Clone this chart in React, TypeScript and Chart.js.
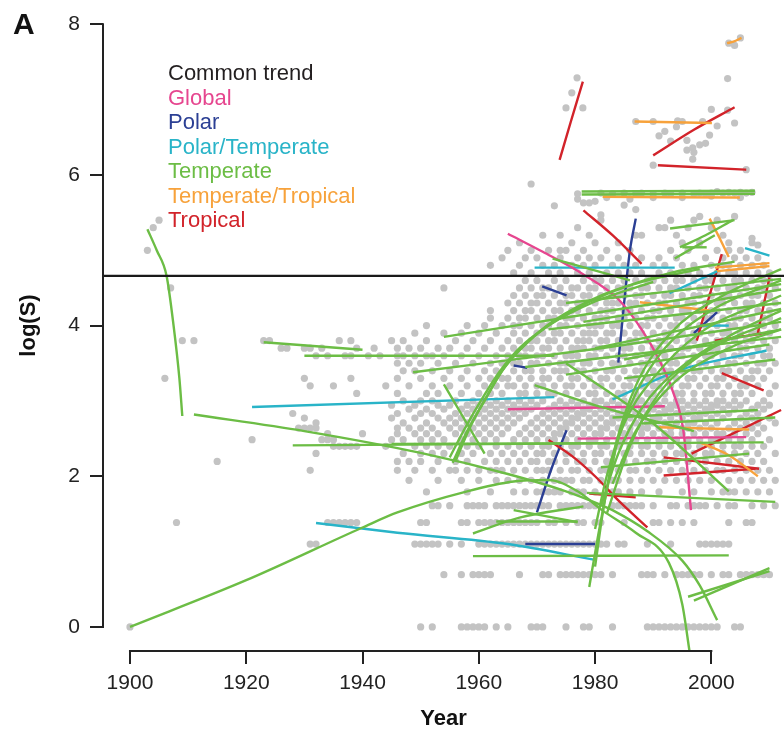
import { useEffect, useRef } from "react";
import { Chart, registerables } from "chart.js";

Chart.register(...registerables);

const xTicks = [1900, 1920, 1940, 1960, 1980, 2000];
const yTicks = [0, 2, 4, 6, 8];
const xRange = [1895.36, 2012.5];
const yRange = [-0.32, 8.323];
const commonTrend = 4.66;

const legendLabels = ["Common trend", "Global", "Polar", "Polar/Temperate", "Temperate", "Temperate/Tropical", "Tropical"];
const legendColors = ["#231f20", "#e6468f", "#2b3f94", "#29b4c8", "#6cbd45", "#f7a23b", "#d2232a"];

// gray observations, grouped by log(S) level
const dotLevels = [0, 0.693, 1.099, 1.386, 1.609, 1.792, 1.946, 2.079, 2.197, 2.303, 2.398, 2.485, 2.565, 2.639, 2.708, 2.773, 2.833, 2.89, 2.944, 3.0,
  3.1, 3.2, 3.3, 3.4, 3.5, 3.6, 3.7, 3.8, 3.9, 4.0, 4.1, 4.2, 4.3, 4.4, 4.5, 4.6, 4.7, 4.8, 4.9, 5.0, 5.1, 5.2, 5.3, 5.4];
const dotYears: number[][] = [
  [1900, 1950, 1952, 1957, 1958, 1959, 1960, 1961, 1963, 1965, 1969, 1970, 1971, 1975, 1978, 1979, 1983, 1989, 1990, 1991, 1992, 1993, 1994, 1995, 1996, 1997, 1998, 1999, 2000, 2001, 2004, 2005],
  [1954, 1957, 1959, 1960, 1961, 1962, 1967, 1971, 1972, 1974, 1975, 1976, 1977, 1978, 1979, 1980, 1981, 1983, 1988, 1989, 1990, 1992, 1994, 1995, 1996, 1997, 1998, 2000, 2002, 2003, 2005, 2006, 2007, 2008, 2009, 2010],
  [1931, 1932, 1949, 1950, 1951, 1952, 1953, 1955, 1957, 1960, 1961, 1962, 1963, 1964, 1965, 1966, 1967, 1968, 1969, 1970, 1971, 1972, 1973, 1974, 1975, 1976, 1977, 1978, 1979, 1980, 1981, 1982, 1984, 1985, 1989, 1993, 1998, 1999, 2000, 2001, 2002, 2003],
  [1908, 1934, 1935, 1936, 1937, 1938, 1939, 1950, 1951, 1957, 1958, 1960, 1961, 1962, 1963, 1964, 1965, 1966, 1967, 1968, 1969, 1970, 1972, 1973, 1975, 1977, 1978, 1980, 1981, 1985, 1990, 1991, 1993, 1995, 1997, 2003, 2006, 2007],
  [1952, 1953, 1955, 1958, 1959, 1960, 1961, 1963, 1964, 1965, 1966, 1967, 1968, 1969, 1970, 1971, 1972, 1974, 1975, 1976, 1977, 1978, 1979, 1980, 1983, 1984, 1985, 1986, 1987, 1988, 1990, 1993, 1994, 1996, 1997, 1998, 1999, 2001, 2003, 2004, 2007, 2009, 2011],
  [1951, 1958, 1962, 1966, 1968, 1970, 1971, 1972, 1973, 1974, 1976, 1977, 1978, 1980, 1983, 1984, 1986, 1988, 1991, 1995, 1997, 2000, 2002, 2003, 2004, 2006, 2008, 2010],
  [1948, 1953, 1957, 1960, 1963, 1965, 1967, 1969, 1971, 1973, 1974, 1975, 1976, 1978, 1979, 1981, 1983, 1984, 1986, 1988, 1990, 1992, 1994, 1996, 1998, 2000, 2003, 2005, 2007, 2009, 2011],
  [1931, 1946, 1949, 1952, 1955, 1956, 1958, 1960, 1962, 1963, 1964, 1966, 1968, 1970, 1971, 1972, 1974, 1976, 1977, 1979, 1981, 1982, 1984, 1986, 1987, 1989, 1991, 1993, 1995, 1997, 1999, 2001, 2002, 2004, 2006, 2008, 2010],
  [1915, 1946, 1948, 1950, 1953, 1956, 1958, 1961, 1963, 1965, 1967, 1969, 1970, 1972, 1973, 1975, 1977, 1978, 1980, 1982, 1983, 1985, 1987, 1989, 1990, 1992, 1994, 1996, 1999, 2001, 2003, 2005, 2007, 2009],
  [1932, 1947, 1950, 1952, 1954, 1957, 1959, 1962, 1964, 1966, 1968, 1970, 1971, 1973, 1975, 1976, 1978, 1980, 1981, 1983, 1985, 1986, 1988, 1990, 1992, 1994, 1995, 1997, 1999, 2000, 2002, 2004, 2006, 2008, 2011],
  [1935, 1936, 1937, 1938, 1939, 1944, 1949, 1951, 1953, 1955, 1958, 1960, 1963, 1965, 1967, 1969, 1971, 1972, 1974, 1976, 1977, 1979, 1981, 1982, 1984, 1986, 1988, 1989, 1991, 1993, 1995, 1996, 1998, 2000, 2002, 2004, 2005, 2007, 2009],
  [1921, 1933, 1934, 1935, 1945, 1947, 1950, 1952, 1954, 1957, 1959, 1961, 1963, 1966, 1968, 1970, 1972, 1973, 1975, 1977, 1979, 1980, 1982, 1984, 1985, 1987, 1989, 1991, 1992, 1994, 1996, 1998, 2000, 2001, 2003, 2005, 2007, 2010],
  [1934, 1940, 1946, 1949, 1951, 1953, 1956, 1958, 1960, 1962, 1964, 1967, 1969, 1971, 1973, 1974, 1976, 1978, 1980, 1981, 1983, 1985, 1986, 1988, 1990, 1992, 1993, 1995, 1997, 1999, 2001, 2002, 2004, 2006, 2008],
  [1929, 1930, 1931, 1932, 1946, 1948, 1950, 1952, 1955, 1957, 1959, 1961, 1963, 1965, 1968, 1970, 1972, 1974, 1975, 1977, 1979, 1981, 1982, 1984, 1986, 1988, 1989, 1991, 1993, 1995, 1996, 1998, 2000, 2003, 2005, 2007, 2009],
  [1932, 1947, 1951, 1954, 1956, 1958, 1960, 1962, 1964, 1966, 1969, 1971, 1973, 1975, 1976, 1978, 1980, 1982, 1983, 1985, 1987, 1989, 1990, 1992, 1994, 1996, 1997, 1999, 2001, 2004, 2006, 2008, 2011],
  [1930, 1945, 1949, 1953, 1955, 1957, 1959, 1961, 1963, 1965, 1967, 1970, 1972, 1974, 1976, 1977, 1979, 1981, 1983, 1984, 1986, 1988, 1990, 1991, 1993, 1995, 1997, 1998, 2000, 2002, 2005, 2007, 2010],
  [1928, 1946, 1950, 1952, 1956, 1958, 1960, 1962, 1964, 1966, 1968, 1971, 1973, 1975, 1977, 1978, 1980, 1982, 1984, 1985, 1987, 1989, 1991, 1992, 1994, 1996, 1998, 1999, 2001, 2003, 2006, 2008],
  [1948, 1951, 1954, 1957, 1959, 1961, 1963, 1965, 1967, 1969, 1972, 1974, 1976, 1978, 1979, 1981, 1983, 1985, 1986, 1988, 1990, 1992, 1993, 1995, 1997, 1999, 2000, 2002, 2004, 2007, 2009],
  [1945, 1949, 1953, 1955, 1958, 1960, 1962, 1964, 1966, 1968, 1970, 1973, 1975, 1977, 1979, 1980, 1982, 1984, 1986, 1987, 1989, 1991, 1993, 1994, 1996, 1998, 2000, 2001, 2003, 2005, 2008, 2010],
  [1947, 1950, 1952, 1956, 1959, 1961, 1963, 1965, 1967, 1969, 1971, 1974, 1976, 1978, 1980, 1981, 1983, 1985, 1987, 1988, 1990, 1992, 1994, 1995, 1997, 1999, 2001, 2002, 2004, 2006, 2009],
  [1939, 1946, 1951, 1953, 1957, 1960, 1962, 1964, 1967, 1968, 1970, 1972, 1973, 1975, 1977, 1979, 1980, 1982, 1984, 1985, 1987, 1989, 1990, 1992, 1994, 1995, 1997, 1999, 2000, 2002, 2004, 2005, 2007, 2010],
  [1931, 1935, 1944, 1948, 1952, 1955, 1958, 1961, 1963, 1965, 1966, 1968, 1970, 1971, 1973, 1975, 1976, 1978, 1980, 1981, 1983, 1985, 1986, 1988, 1990, 1991, 1993, 1995, 1996, 1998, 2000, 2001, 2003, 2005, 2006, 2008, 2011],
  [1906, 1930, 1938, 1946, 1950, 1954, 1957, 1960, 1962, 1964, 1965, 1967, 1969, 1971, 1972, 1974, 1976, 1977, 1979, 1981, 1982, 1984, 1986, 1987, 1989, 1991, 1992, 1994, 1996, 1997, 1999, 2001, 2002, 2004, 2006, 2007, 2009],
  [1947, 1949, 1952, 1955, 1958, 1961, 1963, 1966, 1968, 1969, 1971, 1973, 1974, 1975, 1977, 1978, 1980, 1982, 1983, 1985, 1987, 1988, 1990, 1992, 1993, 1995, 1997, 1998, 2000, 2002, 2003, 2005, 2007, 2008, 2010],
  [1946, 1948, 1950, 1953, 1956, 1959, 1962, 1964, 1966, 1967, 1969, 1970, 1972, 1974, 1975, 1976, 1978, 1979, 1981, 1983, 1984, 1986, 1988, 1989, 1991, 1993, 1994, 1996, 1998, 1999, 2001, 2003, 2004, 2006, 2008, 2009, 2011],
  [1932, 1934, 1937, 1938, 1941, 1943, 1946, 1947, 1949, 1951, 1952, 1954, 1957, 1960, 1963, 1965, 1967, 1968, 1970, 1971, 1973, 1975, 1976, 1977, 1979, 1980, 1982, 1984, 1985, 1987, 1989, 1990, 1992, 1994, 1995, 1997, 1999, 2000, 2002, 2004, 2005, 2007, 2009, 2010],
  [1926, 1927, 1930, 1931, 1933, 1939, 1942, 1946, 1948, 1950, 1953, 1955, 1958, 1961, 1964, 1966, 1968, 1969, 1971, 1972, 1974, 1976, 1977, 1978, 1980, 1981, 1983, 1985, 1986, 1988, 1990, 1991, 1993, 1995, 1996, 1998, 2000, 2001, 2003, 2005, 2006, 2008, 2010],
  [1909, 1911, 1923, 1924, 1936, 1938, 1945, 1947, 1951, 1956, 1959, 1962, 1965, 1967, 1969, 1970, 1972, 1973, 1975, 1977, 1978, 1979, 1981, 1982, 1984, 1986, 1987, 1989, 1991, 1992, 1994, 1996, 1997, 1999, 2001, 2002, 2004, 2006, 2007, 2009, 2011],
  [1949, 1954, 1957, 1960, 1963, 1966, 1968, 1970, 1971, 1973, 1974, 1976, 1978, 1979, 1980, 1982, 1983, 1985, 1987, 1988, 1990, 1992, 1993, 1995, 1997, 1998, 2000, 2002, 2003, 2005, 2007, 2008, 2010],
  [1951, 1958, 1961, 1964, 1966, 1967, 1969, 1971, 1972, 1974, 1975, 1977, 1979, 1980, 1981, 1983, 1984, 1986, 1988, 1989, 1991, 1993, 1994, 1996, 1998, 1999, 2001, 2003, 2004, 2006, 2008, 2009, 2011],
  [1962, 1965, 1967, 1968, 1970, 1972, 1973, 1975, 1976, 1978, 1980, 1981, 1982, 1984, 1985, 1987, 1989, 1990, 1992, 1994, 1995, 1997, 1999, 2000, 2002, 2004, 2005, 2007, 2009, 2010],
  [1962, 1966, 1968, 1969, 1971, 1973, 1974, 1976, 1977, 1979, 1981, 1982, 1983, 1985, 1986, 1988, 1990, 1991, 1993, 1995, 1996, 1998, 2000, 2001, 2003, 2005, 2006, 2008, 2010],
  [1965, 1967, 1969, 1970, 1972, 1974, 1975, 1977, 1978, 1980, 1982, 1983, 1984, 1986, 1987, 1989, 1991, 1992, 1994, 1996, 1997, 1999, 2001, 2002, 2004, 2006, 2007, 2009, 2011],
  [1966, 1968, 1970, 1971, 1973, 1975, 1976, 1978, 1979, 1981, 1983, 1984, 1985, 1987, 1988, 1990, 1992, 1993, 1995, 1997, 1998, 2000, 2002, 2003, 2005, 2007, 2008, 2010],
  [1907, 1954, 1967, 1969, 1971, 1972, 1974, 1976, 1977, 1979, 1980, 1982, 1984, 1985, 1986, 1988, 1989, 1991, 1993, 1994, 1996, 1998, 1999, 2001, 2003, 2004, 2006, 2008, 2009, 2011],
  [1968, 1970, 1973, 1975, 1978, 1980, 1981, 1983, 1985, 1987, 1989, 1990, 1992, 1994, 1995, 1997, 1999, 2000, 2002, 2004, 2005, 2007, 2009, 2010],
  [1966, 1969, 1972, 1974, 1977, 1979, 1982, 1984, 1986, 1988, 1991, 1993, 1996, 1998, 2001, 2003, 2004, 2006, 2008, 2010],
  [1962, 1967, 1971, 1973, 1976, 1978, 1980, 1983, 1985, 1987, 1990, 1992, 1995, 1997, 2000, 2002, 2003, 2005, 2007, 2009],
  [1964, 1968, 1970, 1974, 1977, 1979, 1981, 1984, 1988, 1991, 1994, 1999, 2002, 2004, 2006, 2008],
  [1903, 1965, 1969, 1972, 1974, 1975, 1978, 1982, 1986, 1993, 1996, 2001, 2003, 2005],
  [1967, 1976, 1980, 1984, 1995, 1998, 2003, 2007],
  [1971, 1974, 1979, 1987, 1988, 1994, 2002],
  [1904, 1977, 1991, 1992, 1996, 2000],
  [1905, 1981, 1993, 1997, 2001],
];
// sparse observations at the top of the cloud
const upperDots: [number, number][] = [
  [1969, 5.88], [1973, 5.59], [1981, 5.47], [1987, 5.54], [1985, 5.6], [1977, 5.68], [1978, 5.63], [1979, 5.63], [1980, 5.65],
  [1977, 5.75], [1981, 5.76], [1983, 5.75], [1985, 5.76], [1987, 5.75], [1988, 5.76], [1990, 5.75], [1992, 5.76], [1993, 5.75], [1995, 5.76],
  [1997, 5.75], [1998, 5.76], [1999, 5.75], [2000, 5.76], [2001, 5.78], [2002, 5.76], [2003, 5.77], [2004, 5.76], [2005, 5.77], [2006, 5.76], [2007, 5.77],
  [1982, 5.7], [1986, 5.68], [1990, 5.7], [1995, 5.7], [2000, 5.72], [2005, 5.7],
  [1987, 6.71], [1990, 6.71], [1995, 6.71], [1998.5, 6.71],
  [1990, 6.13], [1991, 6.52], [1992, 6.58], [1993, 6.45], [1994, 6.64], [1994.2, 6.72], [1995.8, 6.46], [1995.8, 6.33], [1996.8, 6.36], [1996.8, 6.21],
  [1997, 6.3], [1998, 6.4], [1999, 6.42], [1999.7, 6.53], [2000, 6.87], [2001, 6.65], [2002.8, 6.86], [2004, 6.69], [2006, 6.07],
  [1975, 6.89], [1976, 7.09], [1976.9, 7.29], [1977.9, 6.89],
  [2002.8, 7.28], [2003, 7.75], [2004, 7.72], [2005, 7.82],
  [2007, 5.16], [2008, 5.07], [1998, 5.45], [2004, 5.45],
];

// fitted trends, one list of [year, log(S)] per population
const globalLines: [number, number][][] = [
  [[1965, 5.22], [1971, 4.98], [1978, 4.68], [1984, 4.35], [1988, 3.95], [1991, 3.55], [1993.5, 3.1], [1995.2, 2.6], [1996.5, 1.55]],
  [[1965, 2.89], [1992, 2.93]],
  [[1977, 2.5], [2006, 2.52]],
];
const polarLines: [number, number][][] = [
  [[1970.9, 4.52], [1975.1, 4.4]],
  [[1984, 3.51], [1985, 4.3], [1986, 5.0], [1987, 5.42]],
  [[1970, 1.52], [1972.5, 2.1], [1975.1, 2.61]],
  [[1968, 1.1], [1980, 1.1]],
  [[1966, 3.47], [1968.3, 3.44]],
  [[1997, 3.9], [2001, 4.18]],
];
const polarTemperateLines: [number, number][][] = [
  [[1921, 2.92], [1973, 3.05]],
  [[1932, 1.38], [1946, 1.25], [1965, 1.1], [1980, 0.89]],
  [[1969.6, 4.77], [1993.7, 4.77]],
  [[1983, 3.02], [1995, 3.42], [2009.5, 3.67]],
  [[1992.8, 4.43], [2001, 4.72]],
  [[1998, 4.0], [2003, 4.0]],
  [[2005.8, 5.03], [2010, 4.93]],
];
const temperateLines: [number, number][][] = [
  [[1903, 5.28], [1904.6, 5.0], [1906.3, 4.66], [1907.5, 4.0], [1908.5, 3.3], [1909, 2.8]],
  [[1911, 2.82], [1930, 2.6], [1950, 2.31], [1965, 2.03], [1975, 1.8], [1981, 1.62], [1983, 1.55], [1989, 1.27], [1995, 0.88], [1998, 0.55], [2001, 0.09]],
  [[1900, 0], [1920, 0.62], [1940, 1.32], [1946, 1.52], [1958, 1.8], [1966, 1.93], [1972, 1.95], [1977, 1.8], [1981.2, 1.55], [1987, 1.25], [1992.7, 0.85], [1995, 0.3], [1996.3, -0.35]],
  [[1923, 3.78], [1940, 3.68]],
  [[1930, 3.6], [1973, 3.6]],
  [[1928, 2.41], [2009, 2.45]],
  [[1945, 2.43], [1982, 2.44]],
  [[1959, 0.94], [2003, 0.95]],
  [[1959, 1.24], [1967, 1.45], [1978, 1.6]],
  [[1966, 1.55], [1977, 1.39]],
  [[1963, 1.4], [1977, 1.4]],
  [[1997, 0.35], [2010, 0.78]],
  [[1996, 0.4], [2010, 0.74]],
  [[1954, 3.22], [1961, 2.3]],
  [[1955.5, 2.18], [1958, 2.6], [1961, 3.0], [1964, 3.4], [1968, 3.75], [1973, 4.07], [1981, 4.4], [1990, 4.62], [1998, 4.75]],
  [[1956, 2.2], [1958.5, 2.65], [1961.5, 3.08], [1964.5, 3.45], [1969, 3.82], [1975, 4.15], [1983, 4.45], [1993, 4.7], [2004, 4.85]],
  [[1955, 2.25], [1957.5, 2.62], [1960.5, 3.02], [1963.5, 3.38], [1967, 3.7], [1972, 4.0], [1980, 4.32], [1990, 4.58]],
  [[1954, 3.85], [1981, 4.18], [2012, 4.55]],
  [[1948.7, 3.38], [1981, 3.7], [2012, 4.05]],
  [[1969.6, 3.21], [1981, 2.92], [1997, 2.6]],
  [[1975, 4.3], [2012, 4.62]],
  [[1978, 4.05], [2012, 4.48]],
  [[1972, 3.95], [2012, 4.3]],
  [[1980, 3.7], [2012, 4.22]],
  [[1985, 3.55], [2012, 3.95]],
  [[1968, 3.45], [2012, 3.85]],
  [[1975, 3.35], [2010, 3.75]],
  [[1979, 0.53], [1980.5, 1.2], [1982, 1.8], [1984, 2.5], [1987, 3.1], [1992, 3.7], [2000, 4.2], [2012, 4.6]],
  [[1980, 1.3], [1982, 2.0], [1985, 2.7], [1990, 3.3], [1998, 3.9], [2012, 4.4]],
  [[1981, 1.6], [1984, 2.3], [1988, 2.9], [1994, 3.4], [2004, 3.9], [2012, 4.2]],
  [[1980, 0.8], [1981.5, 1.6], [1983.5, 2.4], [1987, 3.2], [1993, 3.9], [2002, 4.4], [2012, 4.75]],
  [[1982, 1.5], [1986, 2.4], [1991, 3.1], [1998, 3.6], [2012, 4.1]],
  [[1983, 1.9], [1987, 2.6], [1993, 3.2], [2003, 3.7], [2012, 3.95]],
  [[1977.7, 5.74], [2007.5, 5.75]],
  [[1977.7, 5.78], [2007.5, 5.79]],
  [[1992.9, 5.29], [2004, 5.4]],
  [[1994.6, 5.04], [1999, 5.2], [2003.7, 5.4]],
  [[1995, 5.04], [1999.2, 5.04]],
  [[1993.7, 4.89], [2000.6, 5.2]],
  [[1972.7, 4.89], [1981, 4.71], [1986, 4.6]],
  [[1983, 2.78], [2008, 2.88]],
  [[1988, 2.7], [2011, 2.78]],
  [[1981, 2.12], [2006.5, 2.3]],
  [[1978.6, 1.78], [2011, 1.66]],
  [[1975, 3.5], [1990, 2.7], [2003, 1.8]],
  [[1985, 3.3], [2011, 3.55]],
];
const temperateTropicalLines: [number, number][][] = [
  [[1986.8, 6.71], [2000.1, 6.69]],
  [[1981.3, 5.71], [2004.9, 5.7]],
  [[2002.7, 7.75], [2003.8, 7.77], [2005.2, 7.82]],
  [[1999.7, 5.42], [2001.5, 5.15], [2003, 4.91]],
  [[2000.6, 4.77], [2010, 4.83]],
  [[2000.6, 4.72], [2010, 4.79]],
  [[1987.7, 4.31], [1999.7, 4.2]],
  [[1991, 2.65], [2006.5, 2.62]],
  [[1998, 2.45], [2003, 2.28], [2008, 2.0]],
];
const tropicalLines: [number, number][][] = [
  [[1973.9, 6.2], [1975.8, 6.7], [1977.9, 7.24]],
  [[1990, 6.26], [1997, 6.6], [2004, 6.9]],
  [[1990.8, 6.13], [2006, 6.07]],
  [[1978, 5.53], [1983, 5.2], [1988, 4.82]],
  [[1997.5, 3.8], [1999.5, 4.35], [2001.8, 4.95]],
  [[2008, 3.9], [2010, 4.64]],
  [[2000.6, 3.8], [2010, 3.91]],
  [[2001.8, 3.37], [2009, 3.14]],
  [[1996.6, 2.3], [2012, 2.88]],
  [[1991.8, 2.25], [2008.2, 2.1]],
  [[1991.8, 2.01], [2007.6, 2.1]],
  [[1972, 2.48], [1976, 2.27], [1980, 2.0], [1984, 1.68], [1989, 1.32]],
  [[1979, 1.77], [1987, 1.72]],
];

const FONT = '"Liberation Sans", Arial, Helvetica, sans-serif';

const decorPlugin = {
  id: "decor",
  afterDraw(chart: any) {
    const { ctx, chartArea, scales } = chart;
    const x = scales.x;
    const y = scales.y;
    ctx.save();
    ctx.strokeStyle = "#222";
    ctx.lineWidth = 2;
    ctx.beginPath();
    ctx.moveTo(chartArea.left, y.getPixelForValue(yTicks[0]) + 1);
    ctx.lineTo(chartArea.left, y.getPixelForValue(yTicks[yTicks.length - 1]) - 1);
    ctx.moveTo(x.getPixelForValue(xTicks[0]) - 1, chartArea.bottom);
    ctx.lineTo(x.getPixelForValue(xTicks[xTicks.length - 1]) + 1, chartArea.bottom);
    ctx.stroke();
    ctx.font = `22px ${FONT}`;
    ctx.textAlign = "left";
    ctx.textBaseline = "alphabetic";
    legendLabels.forEach((t, i) => {
      ctx.fillStyle = legendColors[i];
      ctx.fillText(t, 168, 80 + i * 24.5);
    });
    ctx.font = `bold 30px ${FONT}`;
    ctx.fillStyle = "#111";
    ctx.fillText("A", 13, 34);
    ctx.restore();
  },
};

export default function App() {
  const ref = useRef<HTMLCanvasElement>(null);
  useEffect(() => {
    if (!ref.current) return;
    const datasets: any[] = [];
    datasets.push({
      data: [{ x: 1880, y: commonTrend }, { x: 2030, y: commonTrend }],
      showLine: true, borderColor: "#1a1a1a", borderWidth: 2.4, pointRadius: 0, order: 0,
    });
    const groups: [[number, number][][], string][] = [
      [temperateLines, legendColors[4]],
      [globalLines, legendColors[1]],
      [polarTemperateLines, legendColors[3]],
      [temperateTropicalLines, legendColors[5]],
      [tropicalLines, legendColors[6]],
      [polarLines, legendColors[2]],
    ];
    groups.forEach(([lines, color]) => {
      lines.forEach((l) => {
        datasets.push({
          data: l.map(([a, b]) => ({ x: a, y: b })),
          showLine: true, borderColor: color, borderWidth: 2.4, pointRadius: 0,
          cubicInterpolationMode: "monotone", order: 1,
        });
      });
    });
    const dots: { x: number; y: number }[] = [];
    dotLevels.forEach((lv, i) => dotYears[i].forEach((yr) => dots.push({ x: yr, y: lv })));
    upperDots.forEach(([a, b]) => dots.push({ x: a, y: b }));
    datasets.push({
      data: dots, showLine: false, pointRadius: 3.6, pointBackgroundColor: "#c3c3c3",
      pointBorderWidth: 0, borderWidth: 0, order: 5,
    });

    const chart = new Chart(ref.current, {
      type: "scatter",
      data: { datasets },
      options: {
        animation: false,
        responsive: false,
        events: [],
        layout: { padding: 0, autoPadding: false },
        plugins: { legend: { display: false }, tooltip: { enabled: false } },
        scales: {
          x: {
            type: "linear", min: xRange[0], max: xRange[1],
            afterBuildTicks: (ax: any) => { ax.ticks = xTicks.map((v) => ({ value: v })); },
            afterFit: (s: any) => { s.height = 79; s.paddingLeft = 0; s.paddingRight = 0; },
            grid: { display: true, drawOnChartArea: false, drawTicks: true, tickLength: 13, color: "#222", lineWidth: 2 },
            border: { display: false },
            ticks: { font: { family: FONT, size: 21 }, color: "#222", padding: 7, maxRotation: 0, autoSkip: false, callback: (v: any) => String(v) },
            title: { display: true, text: "Year", font: { family: FONT, size: 22, weight: "bold", lineHeight: 1 }, color: "#111", padding: { top: 0, bottom: 0 } },
          },
          y: {
            type: "linear", min: yRange[0], max: yRange[1],
            afterBuildTicks: (ax: any) => { ax.ticks = yTicks.map((v) => ({ value: v })); },
            afterFit: (s: any) => { s.width = 103; s.paddingTop = 0; s.paddingBottom = 0; },
            grid: { display: true, drawOnChartArea: false, drawTicks: true, tickLength: 13, color: "#222", lineWidth: 2 },
            border: { display: false },
            ticks: { font: { family: FONT, size: 21 }, color: "#222", padding: 10, callback: (v: any) => String(v) },
            title: { display: true, text: "log(S)", font: { family: FONT, size: 22, weight: "bold", lineHeight: 1 }, color: "#111", padding: { top: 18, bottom: 0 } },
          },
        },
      },
      plugins: [decorPlugin],
    });
    return () => chart.destroy();
  }, []);
  return (
    <div style={{ position: "fixed", left: 0, top: 0, width: 784, height: 730, background: "#fff" }}>
      <canvas ref={ref} width={784} height={730} style={{ width: 784, height: 730, display: "block" }} />
    </div>
  );
}
